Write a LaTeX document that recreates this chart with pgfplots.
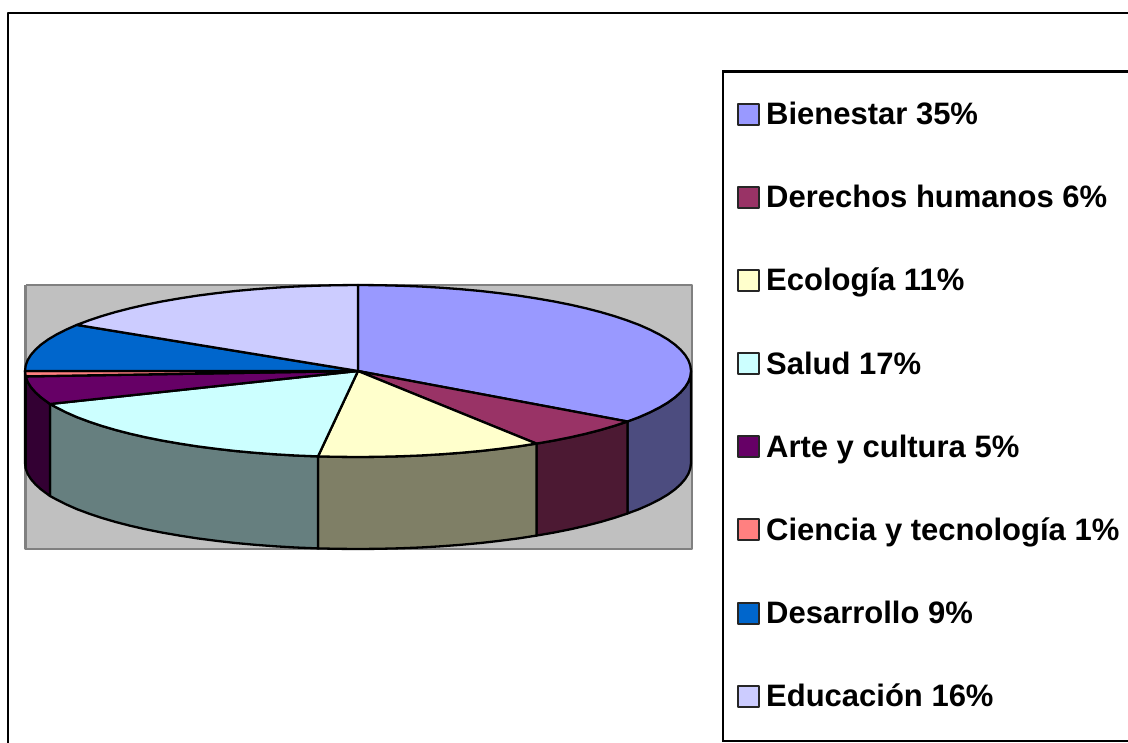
\documentclass[border=0pt]{standalone}
\usepackage{fontspec}
\setmainfont{Liberation Sans}
\usepackage{pgfplots}
\pgfplotsset{compat=1.18}
\definecolor{cA}{RGB}{153,153,255}
\definecolor{cB}{RGB}{153,51,102}
\definecolor{cC}{RGB}{255,255,204}
\definecolor{cD}{RGB}{204,255,255}
\definecolor{cE}{RGB}{102,0,102}
\definecolor{cF}{RGB}{255,128,128}
\definecolor{cG}{RGB}{0,102,204}
\definecolor{cH}{RGB}{204,204,255}
\definecolor{sA}{RGB}{76,76,127}
\definecolor{sB}{RGB}{76,25,51}
\definecolor{sC}{RGB}{127,127,102}
\definecolor{sD}{RGB}{102,127,127}
\definecolor{sE}{RGB}{51,0,51}
\definecolor{sF}{RGB}{127,64,64}
\definecolor{plotgray}{RGB}{192,192,192}
\definecolor{edgegray}{RGB}{128,128,128}
\begin{document}
\begin{tikzpicture}[x=1bp,y=1bp]
\begin{axis}[
  at={(0,0)}, anchor=south west,
  scale only axis, width=1128bp, height=743bp,
  xmin=0, xmax=1128, ymin=0, ymax=743, y dir=reverse,
  axis lines=none, enlargelimits=false,
  every axis plot/.append style={line width=2.3bp, line join=round, mark=none},
  legend cell align=left,
  legend image code/.code={\draw[#1,draw=black!85,line width=2bp] (0bp,0bp) rectangle (21bp,21bp);\path[draw=none,fill=none] (0bp,0bp) rectangle (28bp,0bp);},
  legend style={
    at={(axis cs:722,70.5)}, anchor=north west,
    draw=black, line width=2.3bp, fill=white,
    inner xsep=14bp, inner ysep=30bp,
    row sep=56.15bp, column sep=0bp,
    font=\fontsize{31bp}{31bp}\selectfont\bfseries,
    nodes={inner xsep=0bp, inner ysep=0bp, text height=23bp, text depth=4bp, anchor=base west},
  },
]
% frame
\addplot[forget plot, black, line width=2.4bp] coordinates {(8,743)(8,13)(1128,13)};
% plot area
\addplot[forget plot, fill=plotgray, draw=edgegray, line width=2.2bp] coordinates {(25.5,285)(692,285)(692,549)(25.5,549)(25.5,285)};
% sides
\addplot[forget plot, fill=sA, draw=black] coordinates {(691,371)(690.3,376.4)(688.4,381.8)(685.1,387.1)(680.5,392.4)(674.7,397.6)(667.6,402.7)(659.3,407.6)(649.8,412.4)(639.2,417.1)(627.4,421.5)(627.4,513.5)(639.2,509.1)(649.8,504.4)(659.3,499.6)(667.6,494.7)(674.7,489.6)(680.5,484.4)(685.1,479.1)(688.4,473.8)(690.3,468.4)(691,463)(691,371)};
\addplot[forget plot, fill=sB, draw=black] coordinates {(627.4,421.5)(614.6,425.8)(600.7,429.9)(586,433.7)(570.3,437.3)(553.7,440.6)(536.4,443.6)(536.4,535.6)(553.7,532.6)(570.3,529.3)(586,525.7)(600.7,521.9)(614.6,517.8)(627.4,513.5)(627.4,421.5)};
\addplot[forget plot, fill=sC, draw=black] coordinates {(536.4,443.6)(518.4,446.4)(499.8,448.8)(480.6,451)(460.9,452.8)(440.8,454.3)(420.4,455.5)(399.7,456.3)(378.9,456.8)(358,457)(337.1,456.8)(318,456.4)(318,548.4)(337.1,548.8)(358,549)(378.9,548.8)(399.7,548.3)(420.4,547.5)(440.8,546.3)(460.9,544.8)(480.6,543)(499.8,540.8)(518.4,538.4)(536.4,535.6)(536.4,443.6)};
\addplot[forget plot, fill=sD, draw=black] coordinates {(318,456.4)(295.6,455.5)(275.2,454.3)(255.1,452.8)(235.4,451)(216.2,448.8)(197.6,446.4)(179.6,443.6)(162.3,440.6)(145.7,437.3)(130,433.7)(115.3,429.9)(101.4,425.8)(88.6,421.5)(76.8,417.1)(66.2,412.4)(56.7,407.6)(50,404)(50,496)(56.7,499.6)(66.2,504.4)(76.8,509.1)(88.6,513.5)(101.4,517.8)(115.3,521.9)(130,525.7)(145.7,529.3)(162.3,532.6)(179.6,535.6)(197.6,538.4)(216.2,540.8)(235.4,543)(255.1,544.8)(275.2,546.3)(295.6,547.5)(318,548.4)(318,456.4)};
\addplot[forget plot, fill=sE, draw=black] coordinates {(50,404)(41.3,397.6)(35.5,392.4)(30.9,387.1)(27.6,381.8)(25.7,376.4)(25.7,468.4)(27.6,473.8)(30.9,479.1)(35.5,484.4)(41.3,489.6)(50,496)(50,404)};
\addplot[forget plot, fill=sF, draw=black] coordinates {(25.7,376.4)(25,371)(25,463)(25.7,468.4)(25.7,376.4)};
% tops
\addplot[fill=cA, draw=black] coordinates {(358,371)(358,285)(378.9,285.2)(399.7,285.7)(420.4,286.5)(440.8,287.7)(460.9,289.2)(480.6,291)(499.8,293.2)(518.4,295.6)(536.4,298.4)(553.7,301.4)(570.3,304.7)(586,308.3)(600.7,312.1)(614.6,316.2)(627.4,320.5)(639.2,324.9)(649.8,329.6)(659.3,334.4)(667.6,339.3)(674.7,344.4)(680.5,349.6)(685.1,354.9)(688.4,360.2)(690.3,365.6)(691,371)(690.3,376.4)(688.4,381.8)(685.1,387.1)(680.5,392.4)(674.7,397.6)(667.6,402.7)(659.3,407.6)(649.8,412.4)(639.2,417.1)(627.4,421.5)(358,371)};
\addlegendentry{Bienestar 35\%}
\addplot[fill=cB, draw=black] coordinates {(358,371)(627.4,421.5)(614.6,425.8)(600.7,429.9)(586,433.7)(570.3,437.3)(553.7,440.6)(536.4,443.6)(358,371)};
\addlegendentry{Derechos humanos 6\%}
\addplot[fill=cC, draw=black] coordinates {(358,371)(536.4,443.6)(518.4,446.4)(499.8,448.8)(480.6,451)(460.9,452.8)(440.8,454.3)(420.4,455.5)(399.7,456.3)(378.9,456.8)(358,457)(337.1,456.8)(318,456.4)(358,371)};
\addlegendentry{Ecología 11\%}
\addplot[fill=cD, draw=black] coordinates {(358,371)(318,456.4)(295.6,455.5)(275.2,454.3)(255.1,452.8)(235.4,451)(216.2,448.8)(197.6,446.4)(179.6,443.6)(162.3,440.6)(145.7,437.3)(130,433.7)(115.3,429.9)(101.4,425.8)(88.6,421.5)(76.8,417.1)(66.2,412.4)(56.7,407.6)(50,404)(358,371)};
\addlegendentry{Salud 17\%}
\addplot[fill=cE, draw=black] coordinates {(358,371)(50,404)(41.3,397.6)(35.5,392.4)(30.9,387.1)(27.6,381.8)(25.7,376.4)(358,371)};
\addlegendentry{Arte y cultura 5\%}
\addplot[fill=cF, draw=black] coordinates {(358,371)(25.7,376.4)(25,371)(358,371)};
\addlegendentry{Ciencia y tecnología 1\%}
\addplot[fill=cG, draw=black] coordinates {(358,371)(25,371)(25.7,365.6)(27.6,360.2)(30.9,354.9)(35.5,349.6)(41.3,344.4)(48.4,339.3)(56.7,334.4)(66.2,329.6)(76.8,324.9)(358,371)};
\addlegendentry{Desarrollo 9\%}
\addplot[fill=cH, draw=black] coordinates {(358,371)(76.8,324.9)(88.6,320.5)(101.4,316.2)(115.3,312.1)(130,308.3)(145.7,304.7)(162.3,301.4)(179.6,298.4)(197.6,295.6)(216.2,293.2)(235.4,291)(255.1,289.2)(275.2,287.7)(295.6,286.5)(316.3,285.7)(337.1,285.2)(358,285)(358,371)};
\addlegendentry{Educación 16\%}
\end{axis}
\pgfresetboundingbox
\path[use as bounding box] (0,0) rectangle (1128bp,743bp);
\end{tikzpicture}
\end{document}
